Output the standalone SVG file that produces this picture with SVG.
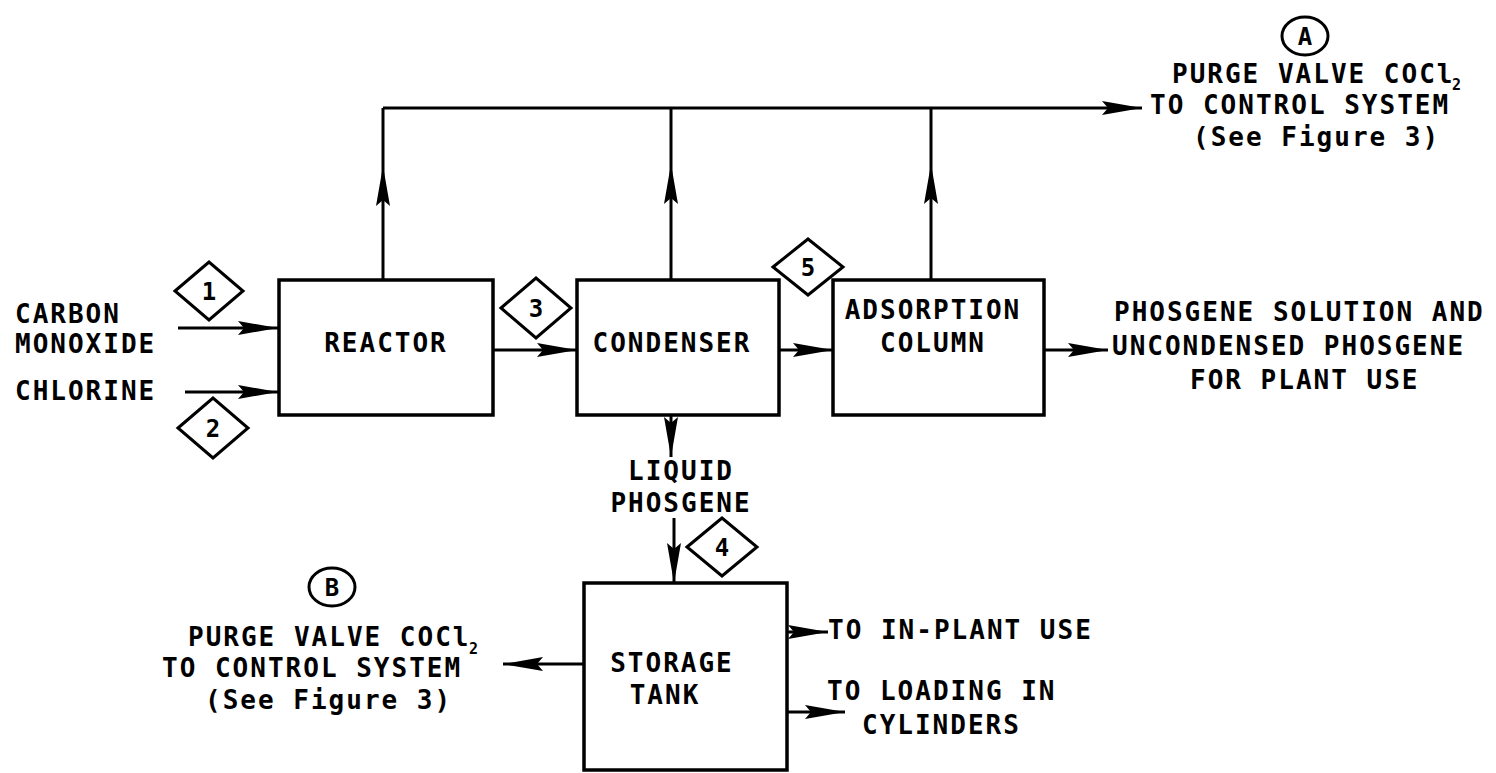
<svg xmlns="http://www.w3.org/2000/svg" width="1496" height="773" viewBox="0 0 1496 773">
<defs>
<style>
.box{fill:none;stroke:#000;stroke-width:3.5}
.ln{fill:none;stroke:#000;stroke-width:3}
.dm{fill:#fff;stroke:#000;stroke-width:3}
.t{font-family:"DejaVu Sans Mono","Liberation Mono",monospace;font-size:26px;font-weight:bold;letter-spacing:2px;fill:#000}
.n{font-family:"DejaVu Sans Mono","Liberation Mono",monospace;font-size:24px;font-weight:bold;fill:#000;text-anchor:middle}
.s{font-family:"DejaVu Sans Mono","Liberation Mono",monospace;font-size:15px;font-weight:bold;fill:#000}
</style>
<path id="ah" d="M0,0 L-40,-7 L-34,0 L-40,7 Z" fill="#000"/>
</defs>
<rect width="1496" height="773" fill="#fff"/>

<g id="connectors">
<line class="ln" x1="178" y1="328" x2="278" y2="328"/>
<use href="#ah" transform="translate(278,328)"/>
<line class="ln" x1="185" y1="392" x2="278" y2="392"/>
<use href="#ah" transform="translate(278,392)"/>
<line class="ln" x1="494" y1="350" x2="577" y2="350"/>
<use href="#ah" transform="translate(577,350)"/>
<line class="ln" x1="780" y1="350" x2="833" y2="350"/>
<use href="#ah" transform="translate(833,350)"/>
<line class="ln" x1="1045" y1="350" x2="1108" y2="350"/>
<use href="#ah" transform="translate(1108,350)"/>
<line class="ln" x1="383" y1="108" x2="1142" y2="108"/>
<use href="#ah" transform="translate(1142,108)"/>
<line class="ln" x1="383" y1="280" x2="383" y2="108"/>
<use href="#ah" transform="translate(383,166) rotate(-90)"/>
<line class="ln" x1="671" y1="280" x2="671" y2="108"/>
<use href="#ah" transform="translate(671,164) rotate(-90)"/>
<line class="ln" x1="931" y1="280" x2="931" y2="108"/>
<use href="#ah" transform="translate(931,164) rotate(-90)"/>
<line class="ln" x1="671" y1="415" x2="671" y2="457"/>
<use href="#ah" transform="translate(671,457) rotate(90)"/>
<line class="ln" x1="674" y1="518" x2="674" y2="583"/>
<use href="#ah" transform="translate(674,583) rotate(90)"/>
<line class="ln" x1="584" y1="664" x2="503" y2="664"/>
<use href="#ah" transform="translate(503,664) rotate(180)"/>
<line class="ln" x1="787" y1="632" x2="828" y2="632"/>
<use href="#ah" transform="translate(828,632)"/>
<line class="ln" x1="787" y1="712" x2="845" y2="712"/>
<use href="#ah" transform="translate(845,712)"/>
</g>

<g id="reactor">
<rect class="box" x="279" y="280" width="214" height="135"/>
<text class="t" x="386" y="352" text-anchor="middle">REACTOR</text>
</g>
<g id="condenser">
<rect class="box" x="577" y="280" width="202" height="135"/>
<text class="t" x="672" y="352" text-anchor="middle">CONDENSER</text>
</g>
<g id="adsorption-column">
<rect class="box" x="833" y="280" width="211" height="135"/>
<text class="t" x="933" y="319" text-anchor="middle">ADSORPTION</text>
<text class="t" x="933" y="352" text-anchor="middle">COLUMN</text>
</g>
<g id="storage-tank">
<rect class="box" x="584" y="583" width="203" height="187"/>
<text class="t" x="672" y="672" text-anchor="middle">STORAGE</text>
<text class="t" x="665" y="704" text-anchor="middle">TANK</text>
</g>

<g id="label-inputs">
<text class="t" x="15" y="323">CARBON</text>
<text class="t" x="15" y="353">MONOXIDE</text>
<text class="t" x="15" y="400">CHLORINE</text>
</g>
<g id="label-liquid-phosgene">
<text class="t" x="681" y="480" text-anchor="middle">LIQUID</text>
<text class="t" x="681" y="512" text-anchor="middle">PHOSGENE</text>
</g>
<g id="label-product">
<text class="t" x="1114" y="321">PHOSGENE SOLUTION AND</text>
<text class="t" x="1112" y="355">UNCONDENSED PHOSGENE</text>
<text class="t" x="1190" y="389">FOR PLANT USE</text>
</g>
<g id="label-outputs-tank">
<text class="t" x="828" y="639">TO IN-PLANT USE</text>
<text class="t" x="827" y="700">TO LOADING IN</text>
<text class="t" x="862" y="734">CYLINDERS</text>
</g>

<g id="purge-a">
<ellipse class="ln" cx="1305" cy="36" rx="23" ry="19"/>
<text class="n" x="1305" y="45">A</text>
<text class="t" x="1172" y="83">PURGE VALVE COCl</text>
<text class="s" x="1452" y="90">2</text>
<text class="t" x="1150" y="114">TO CONTROL SYSTEM</text>
<text class="t" x="1193" y="146">(See Figure 3)</text>
</g>
<g id="purge-b">
<ellipse class="ln" cx="332" cy="587" rx="23" ry="19"/>
<text class="n" x="332" y="596">B</text>
<text class="t" x="188" y="646">PURGE VALVE COCl</text>
<text class="s" x="469" y="654">2</text>
<text class="t" x="162" y="677">TO CONTROL SYSTEM</text>
<text class="t" x="205" y="709">(See Figure 3)</text>
</g>

<g id="stream-1">
<polygon class="dm" points="175,291 209,262 243,291 209,320"/>
<text class="n" x="209" y="300">1</text>
</g>
<g id="stream-2">
<polygon class="dm" points="178,428 213,398 248,428 213,458"/>
<text class="n" x="213" y="437">2</text>
</g>
<g id="stream-3">
<polygon class="dm" points="501,308 536,278 571,308 536,338"/>
<text class="n" x="536" y="317">3</text>
</g>
<g id="stream-4">
<polygon class="dm" points="687,547 722,518 757,547 722,576"/>
<text class="n" x="722" y="556">4</text>
</g>
<g id="stream-5">
<polygon class="dm" points="773,267 808,239 843,267 808,295"/>
<text class="n" x="808" y="276">5</text>
</g>
</svg>
